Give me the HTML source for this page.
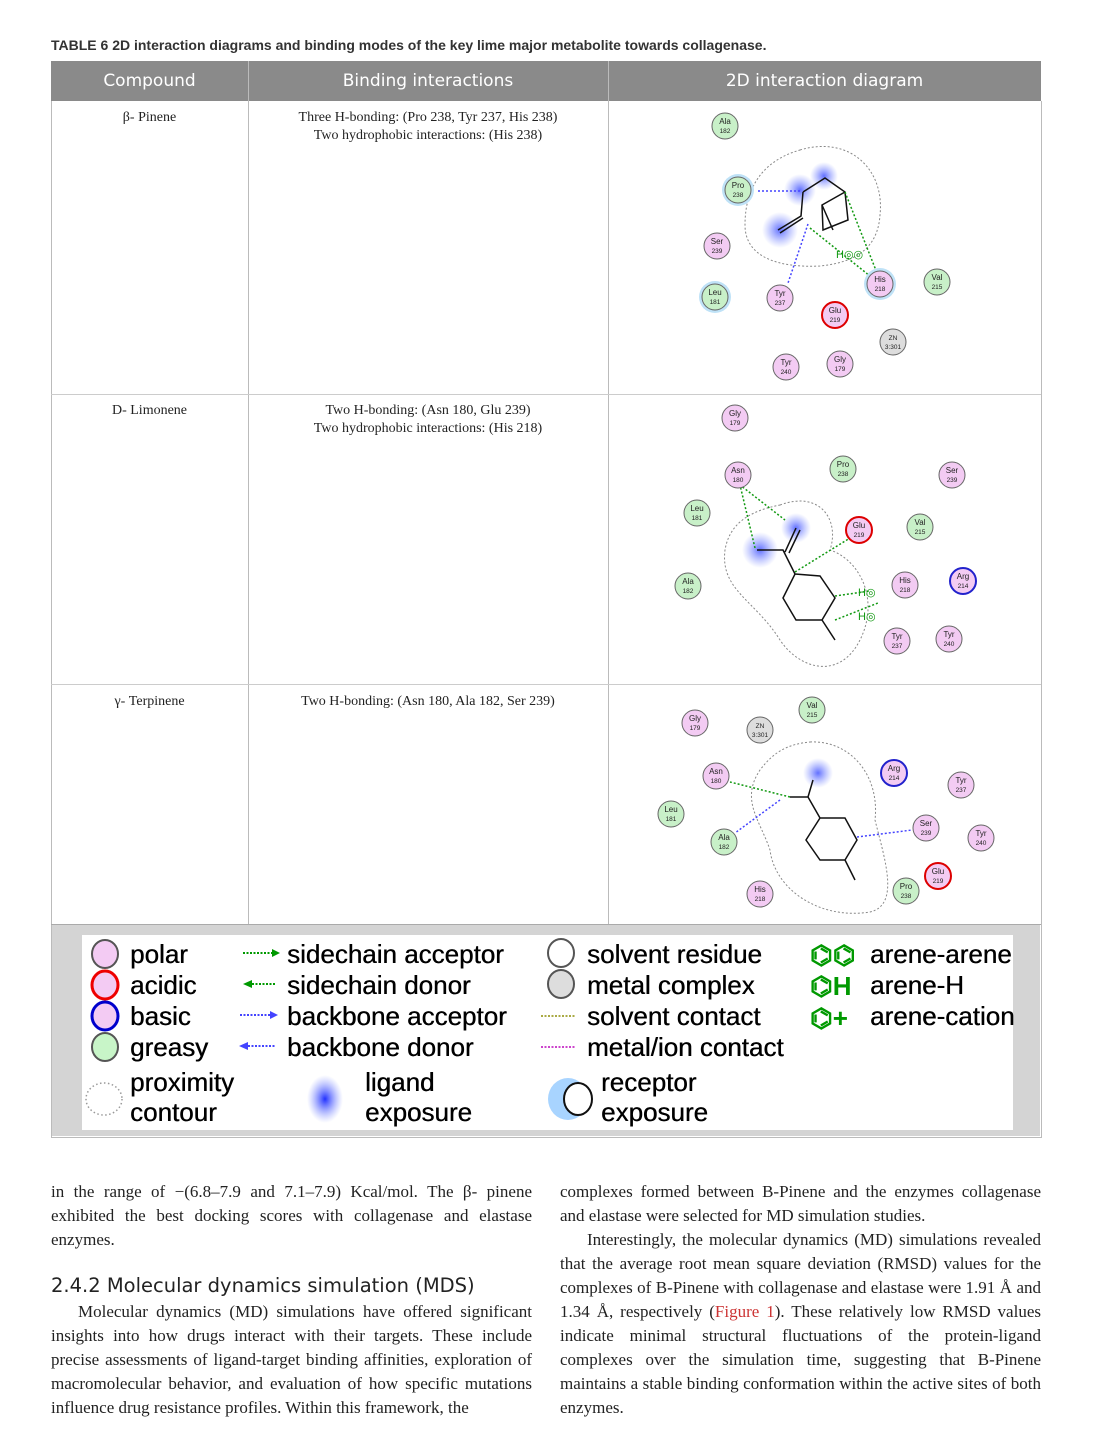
<!DOCTYPE html>
<html><head><meta charset="utf-8">
<style>
body{margin:0;background:#fff;width:1100px;height:1455px;position:relative;overflow:hidden;font-family:"Liberation Serif",serif;color:#222}
.abs{position:absolute}
.cap{left:51px;top:37px;font:bold 14px "Liberation Sans",sans-serif;color:#333}
.hdr{top:61px;height:40px;background:#8a8a8a;left:51px;width:990px}
.hdr div{position:absolute;top:0;height:40px;color:#fff;text-align:center;font:17px "DejaVu Sans","Liberation Sans",sans-serif;line-height:40px}
.cell{font-size:14px;text-align:center;line-height:18px}
.txt{font-size:17px;line-height:24px;text-align:justify;color:#222}
.leg{font:26px "Liberation Sans",sans-serif;color:#000;text-shadow:0.4px 0 0 #000}
</style></head><body>
<div class="abs cap">TABLE 6 2D interaction diagrams and binding modes of the key lime major metabolite towards collagenase.</div>
<div class="abs hdr">
<div style="left:0;width:197px">Compound</div>
<div style="left:197px;width:360px">Binding interactions</div>
<div style="left:557px;width:433px">2D interaction diagram</div>
</div>
<div class="abs" style="left:51px;top:101px;width:989px;height:1036px;border:1px solid #bbb;border-top:none"></div>
<div class="abs" style="left:248px;top:61px;width:1px;height:863px;background:#bbb"></div>
<div class="abs" style="left:608px;top:61px;width:1px;height:863px;background:#bbb"></div>
<div class="abs" style="left:51px;top:394px;width:990px;height:1px;background:#ccc"></div>
<div class="abs" style="left:51px;top:684px;width:990px;height:1px;background:#ccc"></div>
<div class="abs" style="left:51px;top:924px;width:990px;height:1px;background:#aaa"></div>

<div class="abs cell" style="left:51px;width:197px;top:109px">β- Pinene</div>
<div class="abs cell" style="left:248px;width:360px;top:109px">Three H-bonding: (Pro 238, Tyr 237, His 238)<br>Two hydrophobic interactions: (His 238)</div>
<div class="abs cell" style="left:51px;width:197px;top:402px">D- Limonene</div>
<div class="abs cell" style="left:248px;width:360px;top:402px">Two H-bonding: (Asn 180, Glu 239)<br>Two hydrophobic interactions: (His 218)</div>
<div class="abs cell" style="left:51px;width:197px;top:693px">γ- Terpinene</div>
<div class="abs cell" style="left:248px;width:360px;top:693px">Two H-bonding: (Asn 180, Ala 182, Ser 239)</div>

<svg class="abs" style="left:0;top:0" width="1100" height="1455" font-family="Liberation Sans,sans-serif">
<defs>
<radialGradient id="b"><stop offset="0" stop-color="#5060ff" stop-opacity=".9"/><stop offset="1" stop-color="#8090ff" stop-opacity="0"/></radialGradient>
</defs>
<path d="M800,150 C850,135 885,170 880,215 C878,245 860,262 820,266 C780,268 745,258 745,225 C745,185 765,160 800,150Z" fill="none" stroke="#888" stroke-dasharray="2,2"/>
<circle cx="800" cy="190" r="16" fill="url(#b)"/><circle cx="824" cy="176" r="14" fill="url(#b)"/><circle cx="780" cy="230" r="18" fill="url(#b)"/>
<g stroke="#111" stroke-width="1.5" fill="none"><path d="M803,192 L825,178 L845,192 L848,220 L823,230 L822,205 L845,192 M803,192 L801,216 L778,230 M803,218 L780,233 M822,205 L833,230"/></g>
<g stroke-dasharray="2,2" stroke-width="1.5" fill="none"><path d="M800,191 L756,191" stroke="#44f"/><path d="M808,224 L788,283" stroke="#44f"/><path d="M845,192 L877,273 M810,228 L875,280" stroke="#191"/></g>
<text x="836" y="258" font-size="11" fill="#191">H◎◎</text>
<path d="M780,505 C820,490 840,520 830,550 C860,560 880,600 860,640 C840,680 800,670 780,640 C755,600 720,590 725,550 C730,520 755,510 780,505Z" fill="none" stroke="#888" stroke-dasharray="2,2"/>
<circle cx="760" cy="550" r="18" fill="url(#b)"/><circle cx="796" cy="528" r="15" fill="url(#b)"/>
<g stroke="#111" stroke-width="1.5" fill="none"><path d="M795,574 L820,576 L835,598 L822,620 L796,620 L783,598 Z M795,574 L783,550 L757,550 M785,552 L796,528 M789,553 L800,530 M822,620 L835,640"/></g>
<g stroke-dasharray="2,2" stroke-width="1.5" fill="none" stroke="#191"><path d="M755,548 L740,485 L785,520 M795,572 L850,538 M835,596 L870,591 M835,620 L878,603"/></g>
<text x="858" y="596" font-size="11" fill="#191">H◎</text><text x="858" y="620" font-size="11" fill="#191">H◎</text>
<path d="M810,742 C850,740 880,775 875,820 C885,860 900,905 870,912 C820,920 775,890 770,850 C760,820 740,800 760,770 C775,750 790,744 810,742Z" fill="none" stroke="#888" stroke-dasharray="2,2"/>
<circle cx="818" cy="773" r="15" fill="url(#b)"/>
<g stroke="#111" stroke-width="1.5" fill="none"><path d="M808,797 L820,818 L806,840 L820,860 L845,860 L857,840 L845,818 L820,818 M808,797 L790,797 M808,797 L813,780 M845,860 L855,880"/></g>
<g stroke-dasharray="2,2" stroke-width="1.5" fill="none"><path d="M790,797 L730,782" stroke="#191"/><path d="M780,800 L735,833" stroke="#44f"/><path d="M857,837 L912,830" stroke="#44f"/></g>
</svg>
<svg class="abs" style="left:0;top:0" width="1100" height="1455" font-family="Liberation Sans,sans-serif" font-size="8" text-anchor="middle">
<g stroke="#666" stroke-width="1">
<circle cx="738" cy="190" r="16" fill="#bfe2f7" stroke="none"/><circle cx="715" cy="297" r="16" fill="#bfe2f7" stroke="none"/><circle cx="880" cy="284" r="16" fill="#bfe2f7" stroke="none"/>
<circle cx="725" cy="126" r="13" fill="#c8f0c8"/><circle cx="738" cy="190" r="13" fill="#c8f0c8"/><circle cx="717" cy="246" r="13" fill="#f3cbf3"/><circle cx="715" cy="297" r="13" fill="#c8f0c8"/><circle cx="780" cy="298" r="13" fill="#f3cbf3"/><circle cx="835" cy="315" r="13" fill="#f3cbf3" stroke="#d00" stroke-width="2"/><circle cx="880" cy="284" r="13" fill="#f3cbf3"/><circle cx="937" cy="282" r="13" fill="#c8f0c8"/><circle cx="893" cy="342" r="13" fill="#ddd"/><circle cx="786" cy="367" r="13" fill="#f3cbf3"/><circle cx="840" cy="364" r="13" fill="#f3cbf3"/>
<circle cx="735" cy="418" r="13" fill="#f3cbf3"/><circle cx="738" cy="475" r="13" fill="#f3cbf3"/><circle cx="843" cy="469" r="13" fill="#c8f0c8"/><circle cx="952" cy="475" r="13" fill="#f3cbf3"/><circle cx="697" cy="513" r="13" fill="#c8f0c8"/><circle cx="859" cy="530" r="13" fill="#f3cbf3" stroke="#d00" stroke-width="2"/><circle cx="920" cy="527" r="13" fill="#c8f0c8"/><circle cx="688" cy="586" r="13" fill="#c8f0c8"/><circle cx="905" cy="585" r="13" fill="#f3cbf3"/><circle cx="963" cy="581" r="13" fill="#f3cbf3" stroke="#22c" stroke-width="2"/><circle cx="897" cy="641" r="13" fill="#f3cbf3"/><circle cx="949" cy="639" r="13" fill="#f3cbf3"/>
<circle cx="812" cy="710" r="13" fill="#c8f0c8"/><circle cx="695" cy="723" r="13" fill="#f3cbf3"/><circle cx="760" cy="730" r="13" fill="#ddd"/><circle cx="716" cy="776" r="13" fill="#f3cbf3"/><circle cx="894" cy="773" r="13" fill="#f3cbf3" stroke="#22c" stroke-width="2"/><circle cx="961" cy="785" r="13" fill="#f3cbf3"/><circle cx="671" cy="814" r="13" fill="#c8f0c8"/><circle cx="926" cy="828" r="13" fill="#f3cbf3"/><circle cx="981" cy="838" r="13" fill="#f3cbf3"/><circle cx="724" cy="842" r="13" fill="#c8f0c8"/><circle cx="938" cy="876" r="13" fill="#f3cbf3" stroke="#d00" stroke-width="2"/><circle cx="906" cy="891" r="13" fill="#c8f0c8"/><circle cx="760" cy="894" r="13" fill="#f3cbf3"/>
</g>
<g fill="#222">
<text x="725" y="124">Ala</text><text x="725" y="133" font-size="6.5">182</text>
<text x="738" y="188">Pro</text><text x="738" y="197" font-size="6.5">238</text>
<text x="717" y="244">Ser</text><text x="717" y="253" font-size="6.5">239</text>
<text x="715" y="295">Leu</text><text x="715" y="304" font-size="6.5">181</text>
<text x="780" y="296">Tyr</text><text x="780" y="305" font-size="6.5">237</text>
<text x="835" y="313">Glu</text><text x="835" y="322" font-size="6.5">219</text>
<text x="880" y="282">His</text><text x="880" y="291" font-size="6.5">218</text>
<text x="937" y="280">Val</text><text x="937" y="289" font-size="6.5">215</text>
<text x="893" y="340" font-size="6.5">ZN</text><text x="893" y="349" font-size="6.5">3:301</text>
<text x="786" y="365">Tyr</text><text x="786" y="374" font-size="6.5">240</text>
<text x="840" y="362">Gly</text><text x="840" y="371" font-size="6.5">179</text>
<text x="735" y="416">Gly</text><text x="735" y="425" font-size="6.5">179</text>
<text x="738" y="473">Asn</text><text x="738" y="482" font-size="6.5">180</text>
<text x="843" y="467">Pro</text><text x="843" y="476" font-size="6.5">238</text>
<text x="952" y="473">Ser</text><text x="952" y="482" font-size="6.5">239</text>
<text x="697" y="511">Leu</text><text x="697" y="520" font-size="6.5">181</text>
<text x="859" y="528">Glu</text><text x="859" y="537" font-size="6.5">219</text>
<text x="920" y="525">Val</text><text x="920" y="534" font-size="6.5">215</text>
<text x="688" y="584">Ala</text><text x="688" y="593" font-size="6.5">182</text>
<text x="905" y="583">His</text><text x="905" y="592" font-size="6.5">218</text>
<text x="963" y="579">Arg</text><text x="963" y="588" font-size="6.5">214</text>
<text x="897" y="639">Tyr</text><text x="897" y="648" font-size="6.5">237</text>
<text x="949" y="637">Tyr</text><text x="949" y="646" font-size="6.5">240</text>
<text x="812" y="708">Val</text><text x="812" y="717" font-size="6.5">215</text>
<text x="695" y="721">Gly</text><text x="695" y="730" font-size="6.5">179</text>
<text x="760" y="728" font-size="6.5">ZN</text><text x="760" y="737" font-size="6.5">3:301</text>
<text x="716" y="774">Asn</text><text x="716" y="783" font-size="6.5">180</text>
<text x="894" y="771">Arg</text><text x="894" y="780" font-size="6.5">214</text>
<text x="961" y="783">Tyr</text><text x="961" y="792" font-size="6.5">237</text>
<text x="671" y="812">Leu</text><text x="671" y="821" font-size="6.5">181</text>
<text x="926" y="826">Ser</text><text x="926" y="835" font-size="6.5">239</text>
<text x="981" y="836">Tyr</text><text x="981" y="845" font-size="6.5">240</text>
<text x="724" y="840">Ala</text><text x="724" y="849" font-size="6.5">182</text>
<text x="938" y="874">Glu</text><text x="938" y="883" font-size="6.5">219</text>
<text x="906" y="889">Pro</text><text x="906" y="898" font-size="6.5">238</text>
<text x="760" y="892">His</text><text x="760" y="901" font-size="6.5">218</text>
</g>
</svg>

<div class="abs" style="left:52px;top:925px;width:988px;height:211px;background:#d4d4d4"></div>
<div class="abs" style="left:82px;top:935px;width:931px;height:195px;background:#fff"></div>
<svg class="abs" style="left:0;top:0" width="1100" height="1455">
<defs><radialGradient id="b3"><stop offset="0" stop-color="#2030ff"/><stop offset="1" stop-color="#8090ff" stop-opacity="0"/></radialGradient></defs>
<g stroke-width="2">
<ellipse cx="105" cy="954" rx="13" ry="14" fill="#f3cbf3" stroke="#555"/>
<ellipse cx="105" cy="985" rx="13" ry="14" fill="#f3cbf3" stroke="#e00" stroke-width="3"/>
<ellipse cx="105" cy="1016" rx="13" ry="14" fill="#f3cbf3" stroke="#00c" stroke-width="3"/>
<ellipse cx="105" cy="1047" rx="13" ry="14" fill="#c8f5c8" stroke="#555"/>
<ellipse cx="104" cy="1099" rx="18" ry="16" fill="none" stroke="#999" stroke-dasharray="1.5,2.5" stroke-width="1.5"/>
<ellipse cx="561" cy="953" rx="13" ry="14" fill="#fff" stroke="#555"/>
<ellipse cx="561" cy="984" rx="13" ry="14" fill="#ddd" stroke="#555"/>
<ellipse cx="568" cy="1099" rx="20" ry="21" fill="#a8d4ff" stroke="none"/>
<ellipse cx="578" cy="1099" rx="14" ry="16" fill="#fff" stroke="#111"/>
</g>
<ellipse cx="325" cy="1099" rx="18" ry="24" fill="url(#b3)"/>
<g stroke-dasharray="2,1.5" stroke-width="2" fill="none">
<path d="M243,953 L274,953" stroke="#090"/><path d="M252,984 L275,984" stroke="#090"/>
<path d="M240,1015 L272,1015" stroke="#44f"/><path d="M248,1046 L275,1046" stroke="#44f"/>
<path d="M541,1016 L576,1016" stroke="#aa4"/><path d="M541,1047 L576,1047" stroke="#c4c"/>
</g>
<path d="M272,949 L280,953 L272,957Z" fill="#090"/><path d="M252,980 L243,984 L252,988Z" fill="#090"/>
<path d="M270,1011 L278,1015 L270,1019Z" fill="#44f"/><path d="M248,1042 L239,1046 L248,1050Z" fill="#44f"/>
<g fill="#090" font-family="Liberation Sans,sans-serif" font-size="26" font-weight="bold">
<text x="810" y="964">⌬⌬</text><text x="810" y="995">⌬H</text><text x="810" y="1027">⌬+</text>
</g>
</svg>
<div class="abs leg" style="left:130px;top:939px;line-height:31px">polar<br>acidic<br>basic<br>greasy</div>
<div class="abs leg" style="left:287px;top:939px;line-height:31px">sidechain acceptor<br>sidechain donor<br>backbone acceptor<br>backbone donor</div>
<div class="abs leg" style="left:587px;top:939px;line-height:31px">solvent residue<br>metal complex<br>solvent contact<br>metal/ion contact</div>
<div class="abs leg" style="left:870px;top:939px;line-height:31px">arene-arene<br>arene-H<br>arene-cation</div>
<div class="abs leg" style="left:130px;top:1067px;line-height:30px">proximity<br>contour</div>
<div class="abs leg" style="left:365px;top:1067px;line-height:30px">ligand<br>exposure</div>
<div class="abs leg" style="left:601px;top:1067px;line-height:30px">receptor<br>exposure</div>

<div class="abs txt" style="left:51px;top:1180px;width:481px">in the range of −(6.8–7.9 and 7.1–7.9) Kcal/mol. The β- pinene exhibited the best docking scores with collagenase and elastase enzymes.</div>
<div class="abs" style="left:51px;top:1274px;font:19.5px 'DejaVu Sans','Liberation Sans',sans-serif;color:#222">2.4.2 Molecular dynamics simulation (MDS)</div>
<div class="abs txt" style="left:51px;top:1300px;width:481px;text-indent:27px">Molecular dynamics (MD) simulations have offered significant insights into how drugs interact with their targets. These include precise assessments of ligand-target binding affinities, exploration of macromolecular behavior, and evaluation of how specific mutations influence drug resistance profiles. Within this framework, the</div>
<div class="abs txt" style="left:560px;top:1180px;width:481px">complexes formed between B-Pinene and the enzymes collagenase and elastase were selected for MD simulation studies.<br><span style="padding-left:27px"></span>Interestingly, the molecular dynamics (MD) simulations revealed that the average root mean square deviation (RMSD) values for the complexes of B-Pinene with collagenase and elastase were 1.91 Å and 1.34 Å, respectively (<span style="color:#c33">Figure 1</span>). These relatively low RMSD values indicate minimal structural fluctuations of the protein-ligand complexes over the simulation time, suggesting that B-Pinene maintains a stable binding conformation within the active sites of both enzymes.</div>
</body></html>
